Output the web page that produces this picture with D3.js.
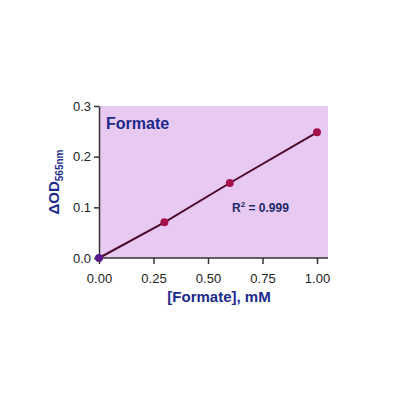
<!DOCTYPE html>
<html>
<head>
<meta charset="utf-8">
<script src="https://cdn.jsdelivr.net/npm/d3@7"></script>
<style>
  body { margin: 0; background: #fff; }
  text { font-family: "Liberation Sans", Arial, sans-serif; }
</style>
</head>
<body>
<div id="chart"></div>
<script>
const width = 400;
const height = 400;

// standard curve points
const concentrations = [0, 0.3, 0.6, 1.0];
const odValues = [0, 0.0705, 0.148, 0.248];
const xTicks = [0, 0.25, 0.5, 0.75, 1.0];
const yTicks = [0, 0.1, 0.2, 0.3];

const margin = { left: 99, top: 106, right: 72, bottom: 142 };
const plotW = width - margin.left - margin.right;
const plotH = height - margin.top - margin.bottom;

const svg = d3.select("#chart")
    .append("svg")
    .attr("width", width)
    .attr("height", height);

const x = d3.scaleLinear().domain([0, 1.0]).range([0, 218]);
const y = d3.scaleLinear().domain([0, 0.3]).range([plotH, 0]);

const g = svg.append("g")
    .attr("transform", `translate(${margin.left},${margin.top})`);

g.append("rect")
    .attr("x", 0)
    .attr("y", 0)
    .attr("width", plotW)
    .attr("height", plotH)
    .attr("fill", "#e8c9f2");

const xAxis = g.append("g")
    .attr("transform", `translate(0,${plotH})`)
    .call(d3.axisBottom(x).tickValues(xTicks).tickFormat(d3.format(".2f")).tickSize(6).tickSizeOuter(0));

const yAxis = g.append("g")
    .call(d3.axisLeft(y).tickValues(yTicks).tickFormat(d3.format(".1f")).tickSize(5).tickSizeOuter(0));

// stretch the x axis line over the full plot width
xAxis.select(".domain").attr("d", `M0,0H${plotW}`);

[xAxis, yAxis].forEach(a => {
    a.select(".domain").attr("stroke", "#333").attr("stroke-width", 1.5);
    a.selectAll(".tick line").attr("stroke", "#333").attr("stroke-width", 1.5);
    a.selectAll(".tick text")
        .attr("fill", "#222")
        .style("font-size", "13px")
        .style("font-family", "'Liberation Sans', Arial, sans-serif");
});
xAxis.selectAll(".tick text").attr("dy", "1.2em");

const points = concentrations.map((c, i) => ({ c: c, od: odValues[i] }));

g.append("path")
    .datum(points)
    .attr("fill", "none")
    .attr("stroke", "#4d0a2c")
    .attr("stroke-width", 2)
    .attr("d", d3.line().x(d => x(d.c)).y(d => y(d.od)));

g.selectAll("circle")
    .data(points)
    .join("circle")
    .attr("cx", d => x(d.c))
    .attr("cy", d => y(d.od))
    .attr("r", 4)
    .attr("fill", (d, i) => i === 0 ? "#5a1a8c" : "#a3104a");

g.append("text")
    .attr("x", 7)
    .attr("y", 23)
    .attr("fill", "#1c2a8c")
    .style("font-size", "16px")
    .style("font-weight", "bold")
    .text("Formate");

const r2 = g.append("text")
    .attr("x", 133)
    .attr("y", 106)
    .attr("fill", "#1c2a6c")
    .style("font-size", "12px")
    .style("font-weight", "bold");
r2.append("tspan").text("R");
r2.append("tspan").attr("dy", -5).style("font-size", "8px").text("2");
r2.append("tspan").attr("dy", 5).text(" = 0.999");

svg.append("text")
    .attr("x", 219)
    .attr("y", 302)
    .attr("text-anchor", "middle")
    .attr("fill", "#1c2a8c")
    .style("font-size", "15px")
    .style("font-weight", "bold")
    .text("[Formate], mM");

const yl = svg.append("text")
    .attr("transform", `translate(59,${margin.top + plotH / 2}) rotate(-90)`)
    .attr("text-anchor", "middle")
    .attr("fill", "#1c2a8c")
    .style("font-size", "15px")
    .style("font-weight", "bold");
yl.append("tspan").text("\u0394OD");
yl.append("tspan").attr("dy", 4).style("font-size", "10px").text("565nm");
</script>
</body>
</html>
